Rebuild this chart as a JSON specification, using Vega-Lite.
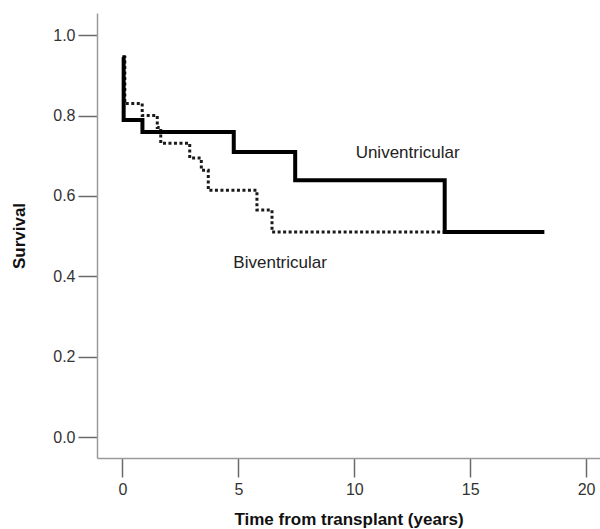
{
  "$schema": "https://vega.github.io/schema/vega-lite/v6.json",
  "autosize": {"type": "none"},
  "padding": {"left": 97, "top": 13, "right": 0, "bottom": 71},
  "width": 503,
  "height": 445,
  "background": "white",
  "config": {
    "view": {"stroke": null},
    "font": "Liberation Sans",
    "axis": {
      "grid": false,
      "domainColor": "#9a9a9a",
      "domainWidth": 1.5,
      "tickColor": "#6a6a6a",
      "tickWidth": 1.5,
      "tickSize": 19,
      "labelFont": "Liberation Sans",
      "labelFontSize": 16,
      "labelColor": "#333333",
      "titleFont": "Liberation Sans",
      "titleFontSize": 17,
      "titleFontWeight": "bold",
      "titleColor": "#111111"
    }
  },
  "datasets": {
    "curves": [
      {"group": "Univentricular", "t": 0, "s": 0.945},
      {"group": "Univentricular", "t": 0.05, "s": 0.789},
      {"group": "Univentricular", "t": 0.86, "s": 0.759},
      {"group": "Univentricular", "t": 4.8, "s": 0.709},
      {"group": "Univentricular", "t": 7.45, "s": 0.639},
      {"group": "Univentricular", "t": 13.9, "s": 0.51},
      {"group": "Univentricular", "t": 18.2, "s": 0.51},
      {"group": "Biventricular", "t": 0, "s": 0.945},
      {"group": "Biventricular", "t": 0.1, "s": 0.83},
      {"group": "Biventricular", "t": 0.85, "s": 0.8},
      {"group": "Biventricular", "t": 1.5, "s": 0.77},
      {"group": "Biventricular", "t": 1.65, "s": 0.731},
      {"group": "Biventricular", "t": 2.9, "s": 0.694},
      {"group": "Biventricular", "t": 3.4, "s": 0.664},
      {"group": "Biventricular", "t": 3.7, "s": 0.614},
      {"group": "Biventricular", "t": 5.8, "s": 0.565},
      {"group": "Biventricular", "t": 6.45, "s": 0.51},
      {"group": "Biventricular", "t": 17.0, "s": 0.51}
    ],
    "labels": [
      {"label": "Univentricular", "t": 12.3, "s": 0.706},
      {"label": "Biventricular", "t": 6.8, "s": 0.433}
    ]
  },
  "layer": [
    {
      "data": {"name": "curves"},
      "transform": [{"filter": "datum.group === 'Biventricular'"}],
      "mark": {"type": "line", "interpolate": "step-after", "color": "#1a1a1a", "strokeWidth": 3, "strokeDash": [3, 2.5]},
      "encoding": {
        "x": {"field": "t", "type": "quantitative", "scale": {"domain": [-1.1, 20.6], "nice": false, "zero": false},
          "axis": {"title": "Time from transplant (years)", "values": [0, 5, 10, 15, 20], "labelPadding": 4, "titlePadding": 14}},
        "y": {"field": "s", "type": "quantitative", "scale": {"domain": [-0.052, 1.055], "nice": false, "zero": false},
          "axis": {"title": "Survival", "values": [0, 0.2, 0.4, 0.6, 0.8, 1.0], "format": ".1f", "labelPadding": 3, "titlePadding": 24}}
      }
    },
    {
      "data": {"name": "curves"},
      "transform": [{"filter": "datum.group === 'Univentricular'"}],
      "mark": {"type": "line", "interpolate": "step-after", "color": "#000000", "strokeWidth": 4},
      "encoding": {
        "x": {"field": "t", "type": "quantitative"},
        "y": {"field": "s", "type": "quantitative"}
      }
    },
    {
      "data": {"name": "labels"},
      "mark": {"type": "text", "fontSize": 17, "color": "#222222", "font": "Liberation Sans"},
      "encoding": {
        "x": {"field": "t", "type": "quantitative"},
        "y": {"field": "s", "type": "quantitative"},
        "text": {"field": "label"}
      }
    }
  ]
}
